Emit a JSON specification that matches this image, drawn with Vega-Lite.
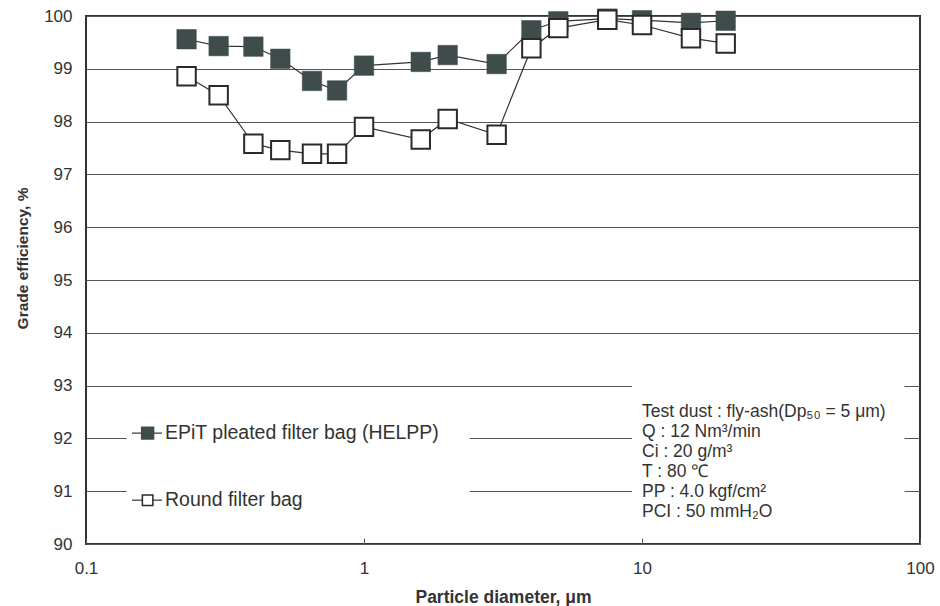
{
  "$schema": "https://vega.github.io/schema/vega-lite/v6.json",
  "width": 834,
  "height": 528,
  "autosize": {"type": "none"},
  "padding": {"left": 86, "top": 16, "right": 20, "bottom": 62},
  "background": "white",
  "config": {
    "font": "Liberation Sans",
    "view": {"stroke": "#333333", "strokeWidth": 2}
  },
  "datasets": {
    "eff": [
      {"d": 0.23, "series": "EPiT", "v": 99.56},
      {"d": 0.3, "series": "EPiT", "v": 99.43},
      {"d": 0.4, "series": "EPiT", "v": 99.42},
      {"d": 0.5, "series": "EPiT", "v": 99.19},
      {"d": 0.65, "series": "EPiT", "v": 98.77},
      {"d": 0.8, "series": "EPiT", "v": 98.59},
      {"d": 1.0, "series": "EPiT", "v": 99.06},
      {"d": 1.6, "series": "EPiT", "v": 99.13},
      {"d": 2.0, "series": "EPiT", "v": 99.26},
      {"d": 3.0, "series": "EPiT", "v": 99.09},
      {"d": 4.0, "series": "EPiT", "v": 99.73},
      {"d": 5.0, "series": "EPiT", "v": 99.9},
      {"d": 7.5, "series": "EPiT", "v": 99.95},
      {"d": 10, "series": "EPiT", "v": 99.92},
      {"d": 15, "series": "EPiT", "v": 99.87},
      {"d": 20, "series": "EPiT", "v": 99.91},
      {"d": 0.23, "series": "Round", "v": 98.86},
      {"d": 0.3, "series": "Round", "v": 98.5},
      {"d": 0.4, "series": "Round", "v": 97.58},
      {"d": 0.5, "series": "Round", "v": 97.46},
      {"d": 0.65, "series": "Round", "v": 97.39},
      {"d": 0.8, "series": "Round", "v": 97.39},
      {"d": 1.0, "series": "Round", "v": 97.9},
      {"d": 1.6, "series": "Round", "v": 97.66},
      {"d": 2.0, "series": "Round", "v": 98.05},
      {"d": 3.0, "series": "Round", "v": 97.75},
      {"d": 4.0, "series": "Round", "v": 99.39},
      {"d": 5.0, "series": "Round", "v": 99.77},
      {"d": 7.5, "series": "Round", "v": 99.93},
      {"d": 10, "series": "Round", "v": 99.83},
      {"d": 15, "series": "Round", "v": 99.58},
      {"d": 20, "series": "Round", "v": 99.48}
    ]
  },
  "layer": [
    {
      "data": {"values": [{}]},
      "mark": {"type": "rect", "fill": "white"},
      "encoding": {
        "x": {"datum": 0.14, "type": "quantitative", "scale": {"type": "log", "domain": [0.1, 100], "nice": false},
          "axis": {"values": [0.1, 1, 10, 100], "format": "~g", "grid": false, "ticks": true, "tickSize": -6, "tickColor": "#555555", "domain": false,
            "labelFontSize": 17, "labelColor": "#333333", "labelPadding": 22, "labelFlush": false,
            "title": "Particle diameter, μm", "titleFontSize": 17.5, "titleFontWeight": "bold", "titleColor": "#333333", "titleY": 53, "titleBaseline": "middle"}},
        "x2": {"datum": 2.4},
        "y": {"datum": 90.3, "type": "quantitative", "scale": {"domain": [90, 100], "nice": false, "zero": false},
          "axis": {"values": [90, 91, 92, 93, 94, 95, 96, 97, 98, 99, 100], "grid": true, "gridColor": "#555555", "gridWidth": 1, "ticks": false, "domain": false,
            "labelFontSize": 17, "labelColor": "#333333", "labelPadding": 14,
            "title": "Grade efficiency, %", "titleFontSize": 15.5, "titleFontWeight": "bold", "titleColor": "#333333", "titleX": -64, "titleY": 242, "titleBaseline": "middle", "titleAlign": "center"}},
        "y2": {"datum": 92.6}
      }
    },
    {
      "data": {"values": [{}]},
      "mark": {"type": "rect", "fill": "white"},
      "encoding": {
        "x": {"datum": 9.2, "type": "quantitative"},
        "x2": {"datum": 88},
        "y": {"datum": 90.3, "type": "quantitative"},
        "y2": {"datum": 93.5}
      }
    },
    {
      "data": {"name": "eff"},
      "mark": {"type": "line", "color": "#333333", "strokeWidth": 1.2},
      "encoding": {
        "x": {"field": "d", "type": "quantitative"},
        "y": {"field": "v", "type": "quantitative"},
        "detail": {"field": "series"}
      }
    },
    {
      "data": {"name": "eff"},
      "transform": [{"filter": "datum.series === 'EPiT'"}],
      "mark": {"type": "point", "shape": "square", "filled": true, "fill": "#3e4d4b", "stroke": "#3e4d4b", "strokeWidth": 0.5, "size": 380, "opacity": 1},
      "encoding": {
        "x": {"field": "d", "type": "quantitative"},
        "y": {"field": "v", "type": "quantitative"}
      }
    },
    {
      "data": {"name": "eff"},
      "transform": [{"filter": "datum.series === 'Round'"}],
      "mark": {"type": "point", "shape": "square", "filled": false, "fill": "white", "fillOpacity": 1, "stroke": "#2a2a2a", "strokeWidth": 2, "size": 340, "opacity": 1},
      "encoding": {
        "x": {"field": "d", "type": "quantitative"},
        "y": {"field": "v", "type": "quantitative"}
      }
    },
    {
      "data": {"values": [{}]},
      "mark": {"type": "rule", "color": "#333333", "strokeWidth": 1.2},
      "encoding": {
        "x": {"datum": 0.1464, "type": "quantitative"},
        "x2": {"datum": 0.1877},
        "y": {"datum": 92.1, "type": "quantitative"}
      }
    },
    {
      "data": {"values": [{}]},
      "mark": {"type": "rule", "color": "#333333", "strokeWidth": 1.2},
      "encoding": {
        "x": {"datum": 0.1464, "type": "quantitative"},
        "x2": {"datum": 0.1877},
        "y": {"datum": 90.83, "type": "quantitative"}
      }
    },
    {
      "data": {"values": [{}]},
      "mark": {"type": "point", "shape": "square", "filled": true, "fill": "#3e4d4b", "stroke": "#3e4d4b", "size": 130, "opacity": 1},
      "encoding": {
        "x": {"datum": 0.1666, "type": "quantitative"},
        "y": {"datum": 92.1, "type": "quantitative"}
      }
    },
    {
      "data": {"values": [{}]},
      "mark": {"type": "point", "shape": "square", "filled": false, "fill": "white", "fillOpacity": 1, "stroke": "#2a2a2a", "strokeWidth": 1.5, "size": 110, "opacity": 1},
      "encoding": {
        "x": {"datum": 0.1666, "type": "quantitative"},
        "y": {"datum": 90.83, "type": "quantitative"}
      }
    },
    {
      "data": {"values": [{}]},
      "mark": {"type": "text", "text": "EPiT pleated filter bag (HELPP)", "align": "left", "baseline": "middle", "fontSize": 19.5, "color": "#333333"},
      "encoding": {
        "x": {"datum": 0.1924, "type": "quantitative"},
        "y": {"datum": 92.1, "type": "quantitative"}
      }
    },
    {
      "data": {"values": [{}]},
      "mark": {"type": "text", "text": "Round filter bag", "align": "left", "baseline": "middle", "fontSize": 19.5, "color": "#333333"},
      "encoding": {
        "x": {"datum": 0.1924, "type": "quantitative"},
        "y": {"datum": 90.83, "type": "quantitative"}
      }
    },
    {
      "data": {"values": [{}]},
      "mark": {"type": "text", "text": ["Test dust : fly-ash(Dp₅₀ = 5 μm)", "Q : 12 Nm³/min", "Ci : 20 g/m³", "T : 80 ℃", "PP : 4.0 kgf/cm²", "PCI : 50 mmH₂O"], "align": "left", "baseline": "alphabetic", "fontSize": 17.5, "lineHeight": 20, "color": "#333333"},
      "encoding": {
        "x": {"datum": 10, "type": "quantitative"},
        "y": {"datum": 92.405, "type": "quantitative"}
      }
    }
  ]
}
